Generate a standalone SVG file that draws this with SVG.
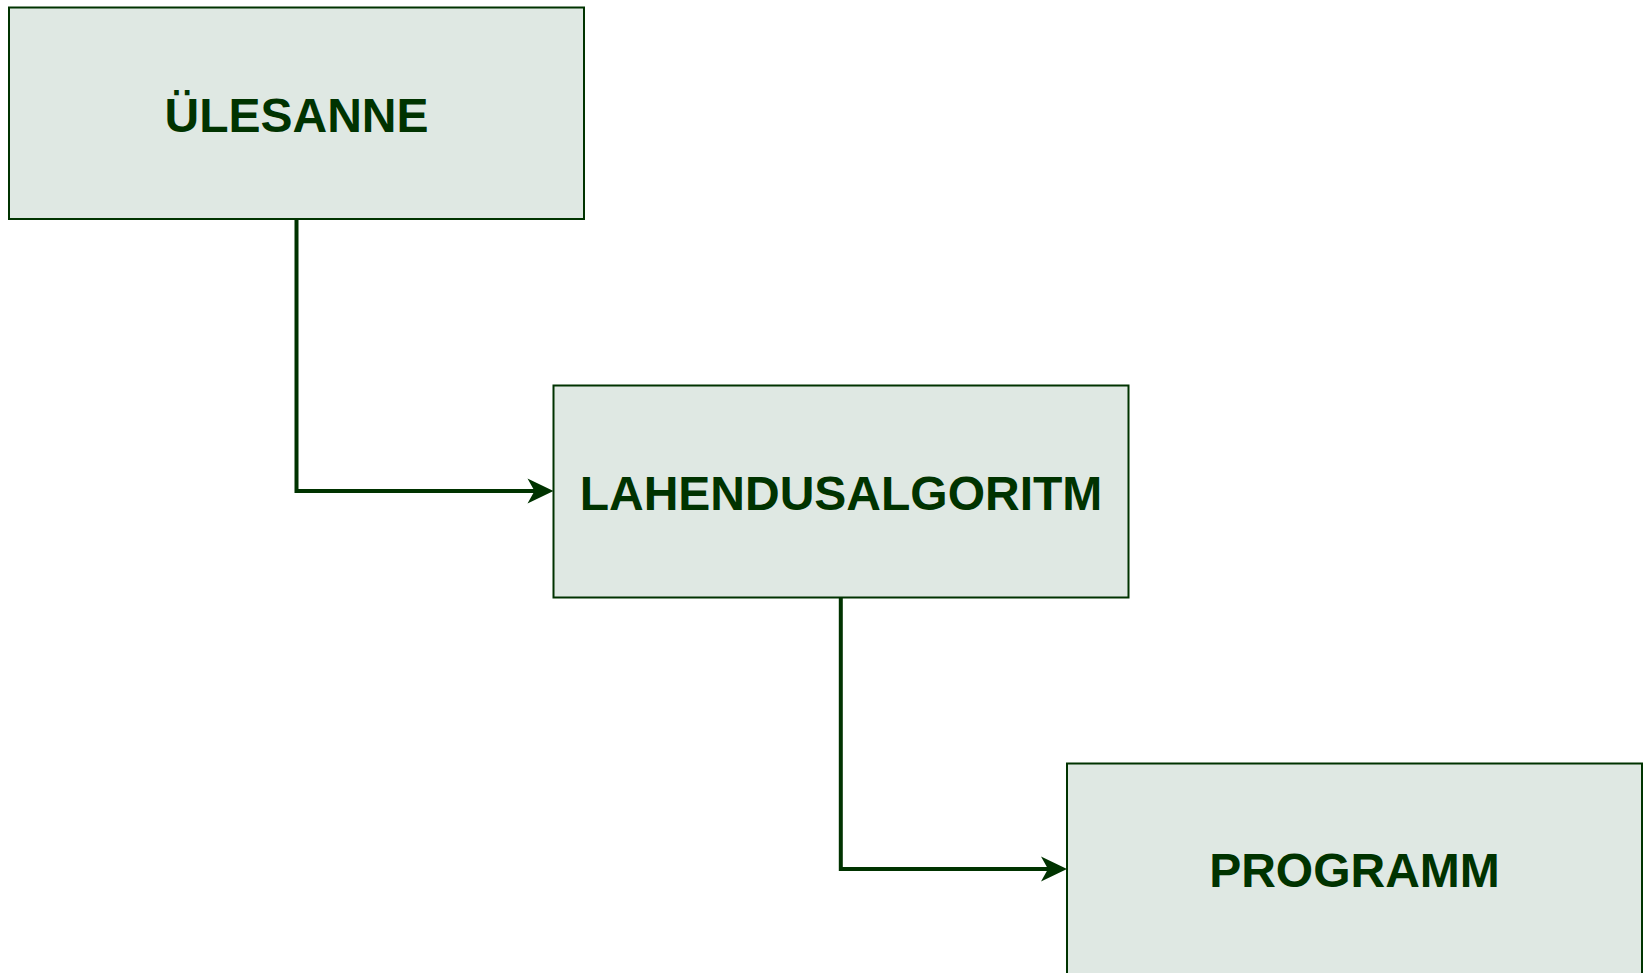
<svg xmlns="http://www.w3.org/2000/svg" width="1644" height="973" viewBox="0 0 1644 973">
<style>
.box{fill:#dfe8e3;stroke:#003300;stroke-width:2}
.lbl{font-family:"Liberation Sans",Arial,sans-serif;font-weight:bold;font-size:48px;fill:#003300;text-anchor:middle}
.conn{fill:none;stroke:#003300;stroke-width:4}
</style>
<defs>
<marker id="arr" markerUnits="userSpaceOnUse" markerWidth="30" markerHeight="30" refX="19" refY="13" orient="auto">
<path d="M1,0.5 L27,13 L1,25.5 L8,13 Z" fill="#003300"/>
</marker>
</defs>
<rect width="1644" height="973" fill="#ffffff"/>
<g id="connectors">
<path class="conn" d="M296.5,219 V491 H545.5" marker-end="url(#arr)"/>
<path class="conn" d="M840.8,597.5 V869 H1059" marker-end="url(#arr)"/>
</g>
<g id="node-ulesanne">
<rect class="box" x="9" y="7.5" width="575" height="211.5"/>
<text class="lbl" x="296.5" y="131.5">ÜLESANNE</text>
</g>
<g id="node-lahendusalgoritm">
<rect class="box" x="553.5" y="385.5" width="575" height="212"/>
<text class="lbl" x="841" y="510">LAHENDUSALGORITM</text>
</g>
<g id="node-programm">
<rect class="box" x="1067" y="763.5" width="575" height="212"/>
<text class="lbl" x="1354.5" y="887">PROGRAMM</text>
</g>
</svg>
